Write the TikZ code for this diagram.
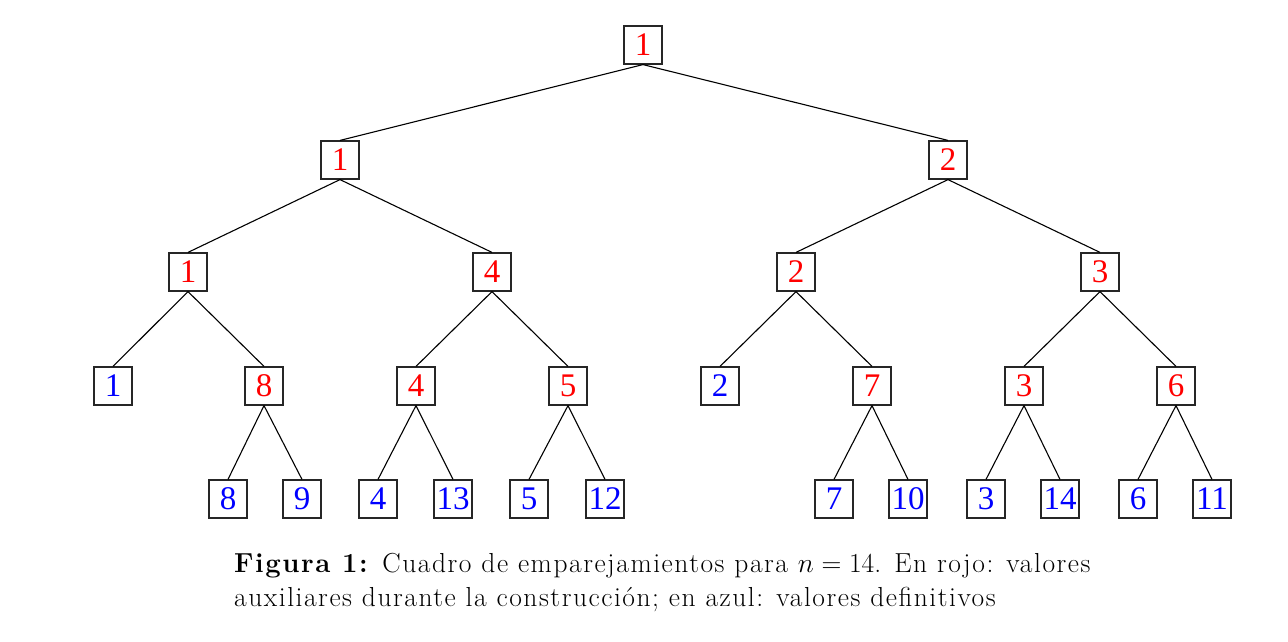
\RequirePackage{fix-cm}
\documentclass[tikz,border=0pt]{standalone}
\usepackage{fontspec}
\usepackage{xcolor}
\newfontfamily\numfont{Liberation Serif}
\newfontfamily\capfont{Latin Modern Roman}[LetterSpace=5.6]

\begin{document}
\begin{tikzpicture}[x=1pt,y=-1pt,
    bx/.style={draw=black!85, line width=1.2pt, minimum size=38pt, inner sep=0pt,
      font=\fontsize{33}{33}\selectfont\numfont},
    aux/.style={bx, text=red},
    fin/.style={bx, text=blue}]
  \useasboundingbox (0,0) rectangle (1288,642);

  % root and second level
  \node[aux] at (643,45) (r) {1};
  \node[aux] at (340,160) (a) {1};
  \node[aux] at (948,160) (b) {2};

  % third level
  \node[aux] at (188,272) (aa) {1};
  \node[aux] at (492,272) (ab) {4};
  \node[aux] at (796,272) (ba) {2};
  \node[aux] at (1100,272) (bb) {3};

  % fourth level
  \node[fin] at (113,386) (aaa) {1};
  \node[aux] at (264,386) (aab) {8};
  \node[aux] at (416,386) (aba) {4};
  \node[aux] at (568,386) (abb) {5};
  \node[fin] at (720,386) (baa) {2};
  \node[aux] at (872,386) (bab) {7};
  \node[aux] at (1024,386) (bba) {3};
  \node[aux] at (1176,386) (bbb) {6};

  % leaves
  \node[fin] at (228,499) (aab1) {8};
  \node[fin] at (302,499) (aab2) {9};
  \node[fin] at (378,499) (aba1) {4};
  \node[fin] at (453,499) (aba2) {13};
  \node[fin] at (529,499) (abb1) {5};
  \node[fin] at (605,499) (abb2) {12};
  \node[fin] at (834,499) (bab1) {7};
  \node[fin] at (908,499) (bab2) {10};
  \node[fin] at (986,499) (bba1) {3};
  \node[fin] at (1060,499) (bba2) {14};
  \node[fin] at (1138,499) (bbb1) {6};
  \node[fin] at (1212,499) (bbb2) {11};

  \foreach \p/\c in {r/a, r/b, a/aa, a/ab, b/ba, b/bb,
      aa/aaa, aa/aab, ab/aba, ab/abb, ba/baa, ba/bab, bb/bba, bb/bbb}
    \draw[line width=1.1pt] (\p.south) -- (\c.north);
  \foreach \p in {aab, aba, abb, bab, bba, bbb}
    {
      \draw[line width=1.1pt] (\p.south) -- (\p1.north);
      \draw[line width=1.1pt] (\p.south) -- (\p2.north);
    }

  \node[anchor=base west, align=left, inner sep=0pt,
    font=\fontsize{27.5}{34}\selectfont\capfont] at (234,606) (cap)
    {\textbf{Figura 1:} Cuadro de emparejamientos para $n=14$. En rojo: valores\\
     auxiliares durante la construcción; en azul: valores definitivos};
\end{tikzpicture}
\end{document}
